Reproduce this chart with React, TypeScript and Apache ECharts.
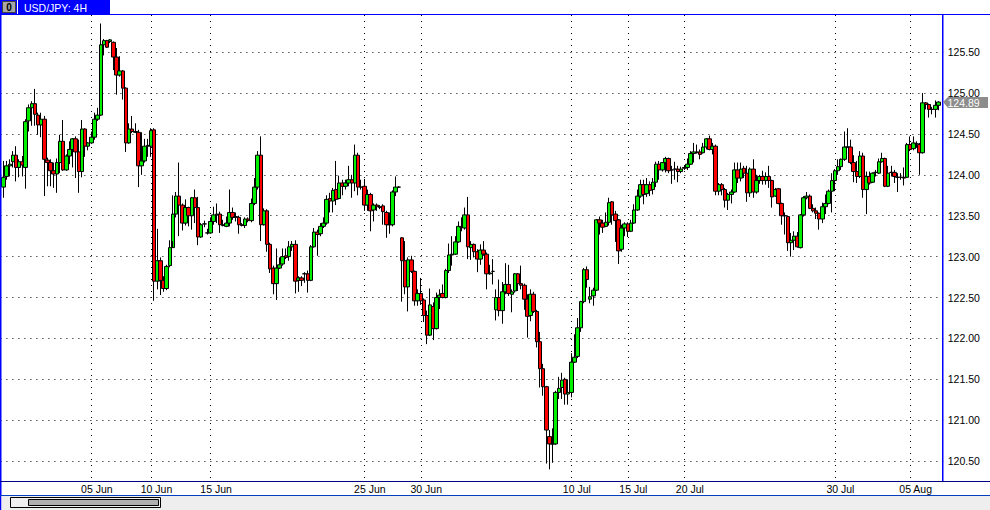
import React, { useEffect, useRef } from "react";
import * as echarts from "echarts";

// [open, close, low, high]
const candlesA = [
[123.85,123.97,123.72,124.17],[123.98,124.11,123.94,124.17],[124.11,124.13,123.98,124.19],[124.16,124.24,124.09,124.29],[124.24,124.09,123.92,124.35],
[124.09,124.16,123.97,124.19],[124.16,124.12,123.98,124.23],[124.09,124.65,123.83,124.68],[124.66,124.82,124.53,124.86],[124.82,124.87,124.6,124.9],
[124.87,124.74,124.6,125.05],[124.73,124.61,124.49,124.76],[124.61,124.68,124.46,124.76],[124.68,124.19,123.74,124.72],[124.18,124.15,123.86,124.21],
[124.15,124.05,123.86,124.19],[124.05,124.01,123.84,124.15],[124.01,124.15,123.78,124.2],[124.15,124.41,124.02,124.49],[124.41,124.06,124.05,124.67],
[124.06,124.23,124.05,124.25],[124.23,124.31,124.13,124.41],[124.31,124.44,124.09,124.45],[124.44,124.28,123.96,124.47],[124.28,124.04,123.78,124.43],
[124.04,124.56,123.97,124.67],[124.56,124.35,124.22,124.57],[124.35,124.39,124.3,124.4],[124.39,124.46,124.38,124.53],[124.46,124.68,124.43,124.76],
[124.68,124.73,124.66,124.82],[124.73,125.59,124.72,125.85],[125.59,125.64,125.46,125.66],[125.64,125.56,125.55,125.65],[125.63,125.65,125.61,125.66],
[125.62,125.44,125.28,125.63],[125.44,125.22,124.98,125.55],[125.22,125.27,125.2,125.45],[125.27,125.06,124.92,125.28],[125.06,124.39,124.28,125.07],
[124.39,124.56,124.38,124.63],[124.56,124.53,124.51,124.72],[124.52,124.53,124.51,124.63],[124.52,124.11,123.85,124.55],[124.11,124.17,124,124.52],
[124.17,124.35,124.15,124.44],[124.35,124.36,124.22,124.44],[124.35,124.54,124.22,124.57],[124.55,122.7,122.46,124.57],
];
const candlesB = [
[122.7,122.95,122.6,123.34],[122.95,122.71,122.53,122.99],[122.71,122.61,122.57,122.76],[122.61,122.88,122.59,122.9],[122.89,123.11,122.87,123.2],
[123.11,123.52,123.19,123.75],[123.52,123.74,123.48,123.79],[123.74,123.63,123.25,124.15],[123.63,123.41,123.32,123.65],[123.41,123.6,123.38,123.7],
[123.6,123.5,123.37,123.61],[123.5,123.72,123.33,123.73],[123.72,123.6,123.41,123.82],[123.6,123.24,123.14,123.73],[123.24,123.39,123.23,123.41],
[123.4,123.4,123.36,123.44],[123.29,123.29,123.27,123.34],[123.29,123.43,123.28,123.48],[123.43,123.51,123.39,123.61],[123.51,123.52,123.41,123.65],
[123.52,123.39,123.29,123.55],[123.39,123.38,123.37,123.45],[123.37,123.41,123.36,123.49],[123.41,123.54,123.37,123.82],[123.54,123.48,123.45,123.6],
[123.49,123.48,123.43,123.54],[123.48,123.39,123.28,123.5],[123.39,123.38,123.37,123.41],[123.38,123.46,123.35,123.48],[123.46,123.44,123.42,123.48],
[123.44,123.65,123.42,123.71],[123.65,123.85,123.63,123.96],[123.85,124.24,123.82,124.29],[124.24,123.39,123.19,124.47],[123.39,123.56,123.38,123.59],
[123.56,123.15,123.06,123.58],[123.15,122.85,122.8,123.17],[122.86,122.67,122.54,122.89],[122.67,122.86,122.47,123.1],[122.86,122.9,122.85,122.99],
[122.91,123,122.89,123.1],[123.01,122.99,122.97,123.1],[123,123.12,122.95,123.19],[123.12,123.15,123.07,123.19],[123.15,122.7,122.55,123.2],
[122.71,122.74,122.57,122.76],[122.74,122.71,122.64,122.76],[122.79,122.79,122.68,122.81],[122.79,122.71,122.56,122.83],[122.71,123.12,122.7,123.14],
];
const candlesC = [
[123.12,123.3,123.11,123.35],[123.3,123.27,123.01,123.33],[123.28,123.37,123.25,123.41],[123.37,123.41,123.35,123.48],[123.41,123.7,123.39,123.75],
[123.71,123.68,123.54,123.78],[123.68,123.81,123.54,123.84],[123.82,123.7,123.63,124.17],[123.71,123.9,123.7,123.99],[123.9,123.86,123.75,123.94],
[123.86,123.9,123.82,123.94],[123.9,123.94,123.86,124.11],[123.94,123.9,123.72,124],[123.9,124.24,123.8,124.37],[124.24,123.85,123.75,124.27],
[123.85,123.85,123.82,123.94],[123.86,123.63,123.56,123.95],[123.63,123.76,123.56,123.82],[123.76,123.56,123.31,123.78],[123.57,123.63,123.43,123.65],
[123.63,123.61,123.56,123.65],[123.61,123.6,123.58,123.63],[123.62,123.55,123.39,123.64],[123.54,123.39,123.23,123.56],[123.39,123.39,123.28,123.54],
[123.39,123.79,123.37,123.81],[123.79,123.85,123.74,123.98],[123.85,123.85,123.84,123.86],[123.23,122.95,122.45,123.24],[122.95,122.63,122.54,123.19],
[122.63,122.96,122.33,122.99],[122.96,122.82,122.8,123.01],[122.82,122.46,122.4,122.83],[122.46,122.55,122.4,122.6],[122.55,122.46,122.41,122.74],
[122.47,122.28,122.2,122.49],[122.28,122.04,121.93,122.34],[122.04,122.41,122.03,122.61],[122.39,122.12,121.98,122.44],[122.12,122.5,122.11,122.56],
[122.5,122.53,122.36,122.6],[122.55,122.5,122.49,122.66],[122.5,122.83,122.49,122.85],[122.83,123.02,122.8,123.16],[123.02,123.03,122.89,123.25],
[123.03,123.18,123.02,123.25],[123.18,123.37,123.17,123.43],[123.36,123.36,123.31,123.48],[123.35,123.51,123.33,123.6],[123.51,123.12,122.97,123.73],
];
const candlesD = [
[123.11,123.15,122.96,123.19],[123.15,123.06,122.99,123.16],[123.06,122.97,122.81,123.09],[122.97,123.08,122.9,123.15],[123.08,123.03,123.01,123.19],
[123.03,122.79,122.6,123.05],[122.79,122.8,122.78,122.9],[122.82,122.82,122.66,122.97],[122.35,122.5,122.22,122.6],[122.5,122.34,122.27,122.72],
[122.34,122.57,122.18,122.69],[122.57,122.66,122.54,122.92],[122.66,122.55,122.52,122.9],[122.54,122.57,122.32,122.6],[122.58,122.79,122.56,122.8],
[122.79,122.67,122.58,122.8],[122.67,122.65,122.6,122.89],[122.65,122.48,122.35,122.67],[122.48,122.27,122.01,122.54],[122.28,122.54,122.21,122.6],
[122.54,122.33,122.31,122.57],[122.33,121.96,121.89,122.35],[121.96,121.63,121.4,122.08],[121.63,121.41,121.3,121.69],[121.41,120.88,120.47,121.42],
[120.8,120.71,120.4,120.88],[120.71,120.71,120.48,120.9],[120.71,121.34,120.7,121.36],[121.34,121.39,121.26,121.53],[121.4,121.49,121.26,121.58],
[121.5,121.32,121.19,121.52],[121.32,121.34,121.19,121.5],[121.34,121.71,121.28,121.82],[121.71,121.77,121.7,122.05],[121.78,122.13,121.76,122.25],
[122.13,122.45,122.08,122.46],[122.45,122.84,122.43,122.86],[122.84,122.72,122.62,122.88],[122.48,122.51,122.43,122.63],[122.52,122.59,122.4,122.62],
[122.59,123.45,122.58,123.46],
];
const candlesE = [
[123.45,123.41,123.27,123.49],[123.41,123.36,123.29,123.45],[123.37,123.42,123.36,123.54],[123.42,123.66,123.38,123.72],[123.67,123.51,123.39,123.68],
[123.52,123.44,123.18,123.56],[123.45,123.07,122.91,123.46],[123.09,123.35,123.06,123.39],[123.35,123.4,123.25,123.42],[123.4,123.31,123.24,123.42],
[123.31,123.41,123.3,123.45],[123.41,123.57,123.4,123.64],[123.57,123.74,123.56,123.82],[123.74,123.88,123.72,123.94],[123.88,123.76,123.64,123.94],
[123.77,123.88,123.73,123.96],[123.88,123.81,123.74,123.92],[123.82,123.91,123.76,123.96],[123.91,124.13,123.85,124.16],[124.13,124.06,123.94,124.17],
[124.06,124.15,124.04,124.15],[124.15,124.2,124.03,124.22],[124.2,124.05,124.02,124.21],[124.06,124.06,123.89,124.11],[124.07,124.07,123.94,124.16],
[124.07,124.04,123.91,124.11],[124.04,124.07,124.02,124.1],[124.09,124.08,124.06,124.11],[124.09,124.13,124.06,124.2],[124.13,124.26,124.12,124.29],
[124.26,124.28,124.15,124.39],[124.28,124.27,124.26,124.37],[124.28,124.25,124.19,124.31],[124.27,124.34,124.26,124.39],[124.34,124.44,124.31,124.45],
[124.44,124.31,124.3,124.48],[124.31,124.35,124.25,124.39],[124.35,123.8,123.75,124.37],[123.8,123.88,123.75,123.9],[123.88,123.82,123.75,123.9],
[123.82,123.69,123.6,123.84],[123.69,123.76,123.57,123.78],[123.76,123.79,123.65,123.82],[123.79,124.06,123.78,124.15],[124.06,123.96,123.9,124.15],
[123.96,124.07,123.92,124.15],[124.08,124.02,123.96,124.11],[124.02,123.78,123.67,124.11],
];
const candlesF = [
[123.78,124.07,123.73,124.09],[124.07,123.79,123.72,124.19],[123.79,123.93,123.77,124],[123.93,123.98,123.89,124],[123.98,123.93,123.88,124.05],
[123.93,123.98,123.88,124.03],[123.98,123.93,123.84,124.11],[123.93,123.73,123.6,123.94],[123.74,123.82,123.73,123.84],[123.83,123.65,123.64,123.84],
[123.65,123.5,123.39,123.66],[123.5,123.5,123.27,123.54],[123.49,123.17,123.07,123.5],[123.17,123.2,123,123.29],[123.2,123.25,123.08,123.31],
[123.25,123.12,123.11,123.3],[123.11,123.51,123.1,123.52],[123.51,123.72,123.49,123.74],[123.72,123.74,123.7,123.79],[123.74,123.59,123.58,123.76],
[123.59,123.56,123.54,123.64],[123.56,123.53,123.46,123.6],[123.53,123.46,123.33,123.54],[123.46,123.61,123.41,123.66],[123.61,123.65,123.52,123.76],
[123.65,123.8,123.64,123.82],[123.8,123.93,123.54,124.02],[123.93,124.05,123.8,124.07],[124.05,124.1,124,124.19],[124.1,124.19,124.06,124.2],
[124.19,124.34,124.17,124.53],[124.34,124.34,124.33,124.57],[124.34,124.15,124.13,124.43],[124.15,124.04,123.91,124.24],[124.04,123.98,123.9,124.17],
[123.98,124.23,123.96,124.29],[124.23,123.82,123.72,124.27],[123.82,123.98,123.52,124.04],
];
const candlesG = [
[123.98,123.9,123.88,124.04],[123.91,124.02,123.9,124.03],[124.03,124.03,123.98,124.06],[124.02,124.16,124.01,124.2],[124.16,124.2,124.15,124.27],
[124.2,123.86,123.85,124.21],[123.86,124.02,123.85,124.11],[124.03,124.03,123.98,124.11],[124.03,123.98,123.9,124.06],[123.97,123.97,123.79,124.02],
[123.97,123.97,123.94,124.02],[123.97,123.96,123.87,124.09],[123.97,124.37,123.96,124.39],[124.37,124.31,124.29,124.47],[124.32,124.39,124.3,124.47],
[124.38,124.38,124.33,124.41],[124.37,124.27,124,124.39],[124.27,124.88,124.26,125],[124.88,124.86,124.8,124.89],[124.86,124.8,124.7,124.87],
[124.8,124.8,124.74,124.83],[124.8,124.85,124.7,124.91],[124.85,124.89,124.79,124.9],
];
const priceTicks = [120.5, 121, 121.5, 122, 122.5, 123, 123.5, 124, 124.5, 125, 125.5];
// position of each date label, counted in candles from the first one
const dateTickCandles = [28, 47, 66, 115, 133, 181, 199, 217, 265, 289];
const dateTickLabels = ["05 Jun", "10 Jun", "15 Jun", "25 Jun", "30 Jun", "10 Jul", "15 Jul", "20 Jul", "30 Jul", "05 Aug"];
const lastPrice = "124.89";
const title = "USD/JPY: 4H";

const BLANK = ["-", "-", "-", "-"];
const candles = [BLANK, ...candlesA, ...candlesB, ...candlesC, ...candlesD, ...candlesE, ...candlesF, ...candlesG, BLANK, BLANK];
const categories = candles.map(() => "");
dateTickCandles.forEach((k, i) => { categories[k + 1] = dateTickLabels[i]; });
const isTick = (i: number) => categories[i] !== "";

const FONT = "'Liberation Sans'";
const BLUE = "#0000ff";
const GREEN = "#00f000";
const RED = "#ff0000";

export default function App() {
  const ref = useRef<HTMLDivElement>(null);
  useEffect(() => {
    document.body.style.margin = "0";
    const chart = echarts.init(ref.current!, null, { renderer: "svg" });
    const rect = (x: number, y: number, w: number, h: number, fill: string, stroke?: string, z = 20) => ({
      type: "rect", z, silent: true, shape: { x, y, width: w, height: h }, style: { fill, stroke: stroke || undefined, lineWidth: stroke ? 1 : 0 },
    });
    chart.setOption({
      animation: false,
      backgroundColor: "#ffffff",
      grid: { left: 0.4, right: 990 - 944.7, top: 15, bottom: 510 - 481, containLabel: false },
      xAxis: {
        type: "category",
        data: categories,
        boundaryGap: false,
        axisLine: { show: false },
        axisTick: { show: false },
        axisLabel: {
          interval: (i: number) => isTick(i),
          margin: 2,
          color: "#000",
          fontFamily: FONT,
          fontSize: 10.5,
          padding: [0, 0, 0, 11],
          hideOverlap: false,
        },
        splitLine: {
          show: true,
          interval: (i: number) => isTick(i),
          lineStyle: { color: "#000", width: 1, type: [1, 5] },
        },
      },
      yAxis: {
        type: "value",
        position: "right",
        min: 120.257,
        max: 125.954,
        axisLine: { show: false },
        axisTick: { show: false, customValues: priceTicks },
        axisLabel: {
          customValues: priceTicks,
          margin: 3,
          color: "#000",
          fontFamily: FONT,
          fontSize: 10.5,
          formatter: (v: number) => v.toFixed(2),
        },
        splitLine: { show: true, lineStyle: { color: "#000", width: 1, type: [1, 5] } },
      },
      series: [
        {
          type: "candlestick",
          data: candles,
          barWidth: 4,
          clip: false,
          z: 3,
          itemStyle: { color: GREEN, color0: RED, borderColor: "#000", borderColor0: "#000", borderWidth: 1 },
        },
      ],
      graphic: [
        rect(0, 0, 990, 14, "#ffffff"),
        rect(0, 0, 110, 14, BLUE),
        rect(17, 0, 1, 14, "#ffffff", undefined, 21),
        rect(2.5, 1.5, 13, 11, "#a8a8a8", "#404040", 21),
        { type: "text", z: 22, silent: true, style: { x: 9, y: 7.5, text: "0", fill: "#000", font: `bold 10px ${FONT}`, align: "center", verticalAlign: "middle" } },
        { type: "text", z: 22, silent: true, style: { x: 24, y: 8, text: title, fill: "#fff", font: `10.5px ${FONT}`, verticalAlign: "middle" } },
        rect(0, 14, 990, 1, BLUE),
        rect(0, 0, 1.5, 510, BLUE, undefined, 19),
        rect(942, 15, 1.5, 466, BLUE),
        rect(943.5, 15, 2.5, 466, "#ffffff", undefined, 5),
        rect(0, 481, 990, 1, "#000080"),
        rect(0, 495, 990, 1, "#0040c0"),
        rect(1.5, 496, 988.5, 14, "#eeeeee"),
        rect(10.5, 497.5, 150, 10, "#f0f0f0", "#000", 21),
        rect(28.5, 499.5, 130, 6, "#b0b0b0", "#000", 22),
        { type: "polygon", z: 23, silent: true, shape: { points: [[943, 102], [948, 97], [988, 97], [988, 108], [948, 108]] }, style: { fill: "#8c8c8c" } },
        { type: "text", z: 24, silent: true, style: { x: 947.5, y: 102.5, text: lastPrice, fill: "#fff", font: `10.5px ${FONT}`, verticalAlign: "middle" } },
      ],
    });
    return () => chart.dispose();
  }, []);
  return <div ref={ref} style={{ width: 990, height: 510 }} />;
}
